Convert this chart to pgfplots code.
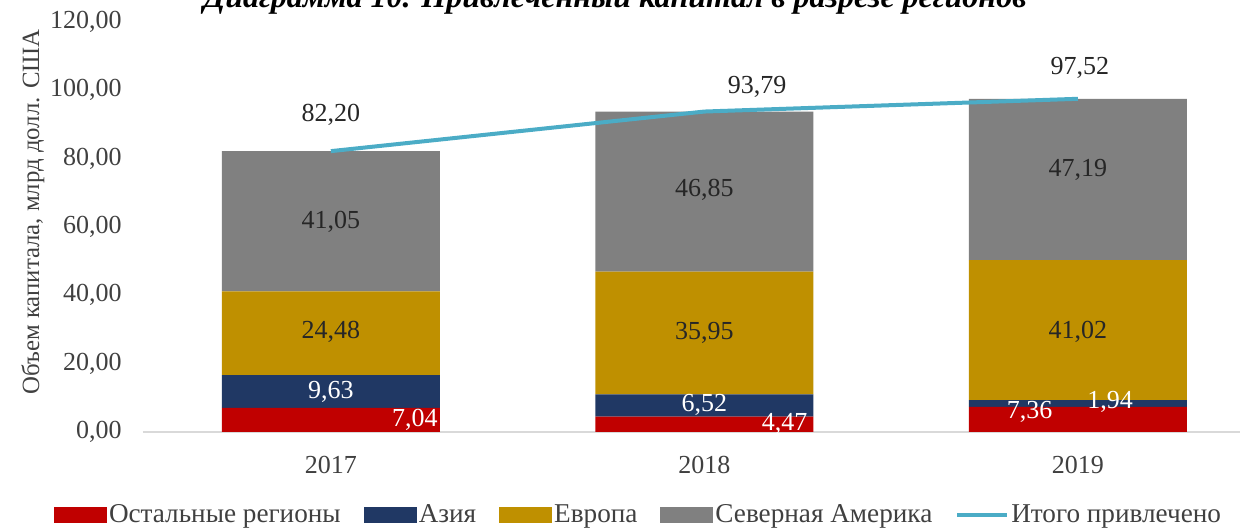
\documentclass[border=0pt]{standalone}
\usepackage{fontspec}
\setmainfont{Liberation Serif}
\usepackage{pgfplots}
\pgfplotsset{compat=1.18}
\usepackage{pgfplotstable}

\definecolor{cred}{HTML}{C00000}
\definecolor{cnavy}{HTML}{203864}
\definecolor{cgold}{HTML}{BF9000}
\definecolor{cgray}{HTML}{808080}
\definecolor{cline}{HTML}{4BACC6}
\definecolor{ctext}{HTML}{404040}

% regions: other, Asia, Europe, North America; total raised
\pgfplotstableread{
x other asia europe na total
0 7.04 9.63 24.48 41.05 82.20
1 4.47 6.52 35.95 46.85 93.79
2 7.36 1.94 41.02 47.19 97.52
}\capdata

\pgfplotsset{
  frame/.style={at={(71.5pt,48.5pt)}, anchor=south west, scale only axis,
    width=548.5pt, height=205pt, xmin=-0.503, xmax=2.434, ymin=0, ymax=120},
  barleg/.style={legend image code/.code={\fill[#1] (0pt,-3.8pt) rectangle (26.5pt,3.8pt);}},
  lineleg/.style={legend image code/.code={\draw[cline, line width=2pt] (0pt,0pt) -- (25pt,0pt);}},
}
\newcommand{\lf}{\fontsize{13}{15}\selectfont}

\begin{document}
\begin{tikzpicture}
\begin{axis}[frame,
  ybar stacked, bar width=0.584,
  axis x line*=bottom, axis y line*=left,
  x axis line style={draw=black!15, line width=1pt},
  y axis line style={draw=none},
  major tick length=0,
  xtick={0,1,2}, xticklabels={2017,2018,2019},
  ytick={0,20,...,120},
  yticklabels={{0,00},{20,00},{40,00},{60,00},{80,00},{100,00},{120,00}},
  ticklabel style={font=\lf, text=ctext},
  yticklabel style={xshift=-7.2pt},
  xticklabel style={yshift=-8.5pt},
  legend columns=5,
  legend style={at={(0.4517,-0.2024)}, anchor=center, draw=none,
    font=\fontsize{13.6}{15}\selectfont,
    nodes={inner sep=1pt, text=ctext},
    /tikz/every even column/.append style={column sep=10.5pt}},
]
\addplot[fill=cred, draw=none, barleg=cred] table[x=x, y=other]{\capdata};
\addlegendentry{Остальные регионы}
\addplot[fill=cnavy, draw=none, barleg=cnavy] table[x=x, y=asia]{\capdata};
\addlegendentry{Азия}
\addplot[fill=cgold, draw=none, barleg=cgold] table[x=x, y=europe]{\capdata};
\addlegendentry{Европа}
\addplot[fill=cgray, draw=none, barleg=cgray] table[x=x, y=na]{\capdata};
\addlegendentry{Северная Америка}
\addlegendimage{lineleg}
\addlegendentry{Итого привлечено}
\end{axis}

\begin{axis}[frame, hide axis, clip=false]
\addplot[cline, line width=2pt, no marks] table[x=x, y=total]{\capdata};
\begin{scope}[every node/.style={font=\lf, text=black!85}]
\node at (axis cs:0,92.8) {82,20};
\node at (axis cs:1.141,101.0) {93,79};
\node at (axis cs:2.005,106.5) {97,52};
\node at (axis cs:0,61.5) {41,05};
\node at (axis cs:0,29.3) {24,48};
\node at (axis cs:1,70.8) {46,85};
\node at (axis cs:1,29.0) {35,95};
\node at (axis cs:2,76.7) {47,19};
\node at (axis cs:2,29.3) {41,02};
\end{scope}
\begin{scope}[every node/.style={font=\lf, text=white}]
\node at (axis cs:0,11.7) {9,63};
\node at (axis cs:0.225,3.5) {7,04};
\node at (axis cs:1,7.9) {6,52};
\node at (axis cs:1.215,2.3) {4,47};
\node at (axis cs:1.871,5.9) {7,36};
\node at (axis cs:2.086,8.8) {1,94};
\end{scope}
\end{axis}

\node[rotate=90, font=\fontsize{12.4}{14}\selectfont, text=ctext] at (16.5pt,158.5pt) {Объем капитала, млрд долл. США};
\node[anchor=base, font=\fontsize{16}{18}\selectfont\bfseries\itshape] at (307.5pt,260.5pt)
  {Диаграмма 10. Привлеченный капитал в разрезе регионов};
\pgfresetboundingbox
\useasboundingbox (0,0) rectangle (621.5pt,264.5pt);
\end{tikzpicture}
\end{document}
